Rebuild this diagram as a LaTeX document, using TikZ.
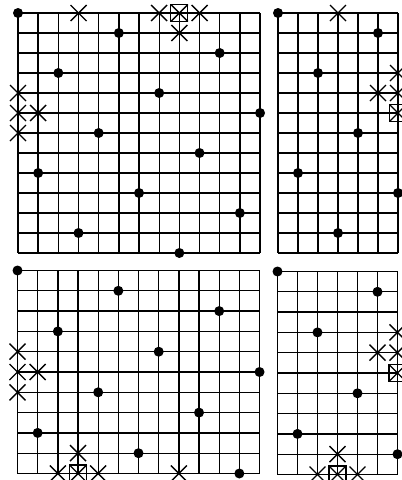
\documentclass[tikz,border=0pt]{standalone}
\begin{document}
\begin{tikzpicture}[x=1pt,y=-1pt,
  gridline/.style={line width=1.35pt,black},
  markline/.style={line width=1.4pt,black},
  dotfill/.style={fill=black}]
\useasboundingbox (0,0) rectangle (402,480);
\newcommand\gridlines[2]{%
  \foreach \i in {0,...,#1} \draw[gridline] (\i,0) -- (\i,#2);
  \foreach \j in {0,...,#2} \draw[gridline] (0,\j) -- (#1,\j);}
\newcommand\mydots[1]{\foreach \p in {#1} \fill[dotfill] \p circle[radius=5pt];}
\newcommand\mycrosses[1]{\foreach \p in {#1} {
  \draw[markline] \p ++(-8pt,-8pt) -- ++(16pt,16pt);
  \draw[markline] \p ++(-8pt,8pt) -- ++(16pt,-16pt);}}
\newcommand\myboxes[1]{\foreach \p in {#1} {
  \draw[markline,line width=1.2pt] \p ++(-8.5pt,-8.5pt) rectangle ++(17pt,17pt);
  \draw[markline] \p ++(-8.5pt,-8.5pt) -- ++(17pt,17pt);
  \draw[markline] \p ++(-8.5pt,8.5pt) -- ++(17pt,-17pt);}}
% top-left
\begin{scope}[shift={(18,13)},x={(20.17pt,0pt)},y={(0pt,-20pt)}]
  \gridlines{12}{12}
  \mydots{(0,0),(5,1),(10,2),(2,3),(7,4),(12,5),(4,6),(9,7),(1,8),(6,9),(11,10),(3,11),(8,12)}
  \mycrosses{(3,0),(7,0),(9,0),(8,1),(0,4),(0,5),(1,5),(0,6)}
  \myboxes{(8,0)}
\end{scope}
% top-right
\begin{scope}[shift={(278,13)},x={(20pt,0pt)},y={(0pt,-20pt)}]
  \gridlines{6}{12}
  \mydots{(0,0),(5,1),(2,3),(4,6),(1,8),(6,9),(3,11)}
  \mycrosses{(3,0),(6,3),(5,4),(6,4)}
  \myboxes{(6,5)}
\end{scope}
% bottom-left
\begin{scope}[shift={(17.5,270.5)},x={(20.17pt,0pt)},y={(0pt,-20.3pt)}]
  \gridlines{12}{10}
  \mydots{(0,0),(5,1),(10,2),(2,3),(7,4),(12,5),(4,6),(9,7),(1,8),(6,9),(11,10)}
  \mycrosses{(0,4),(0,5),(1,5),(0,6),(3,9),(2,10),(4,10),(8,10)}
  \myboxes{(3,10)}
\end{scope}
% bottom-right
\begin{scope}[shift={(277.5,271.5)},x={(20pt,0pt)},y={(0pt,-20.3pt)}]
  \gridlines{6}{10}
  \mydots{(0,0),(5,1),(2,3),(4,6),(1,8),(6,9)}
  \mycrosses{(6,3),(5,4),(6,4),(3,9),(2,10),(4,10)}
  \myboxes{(6,5),(3,10)}
\end{scope}
\end{tikzpicture}
\end{document}
